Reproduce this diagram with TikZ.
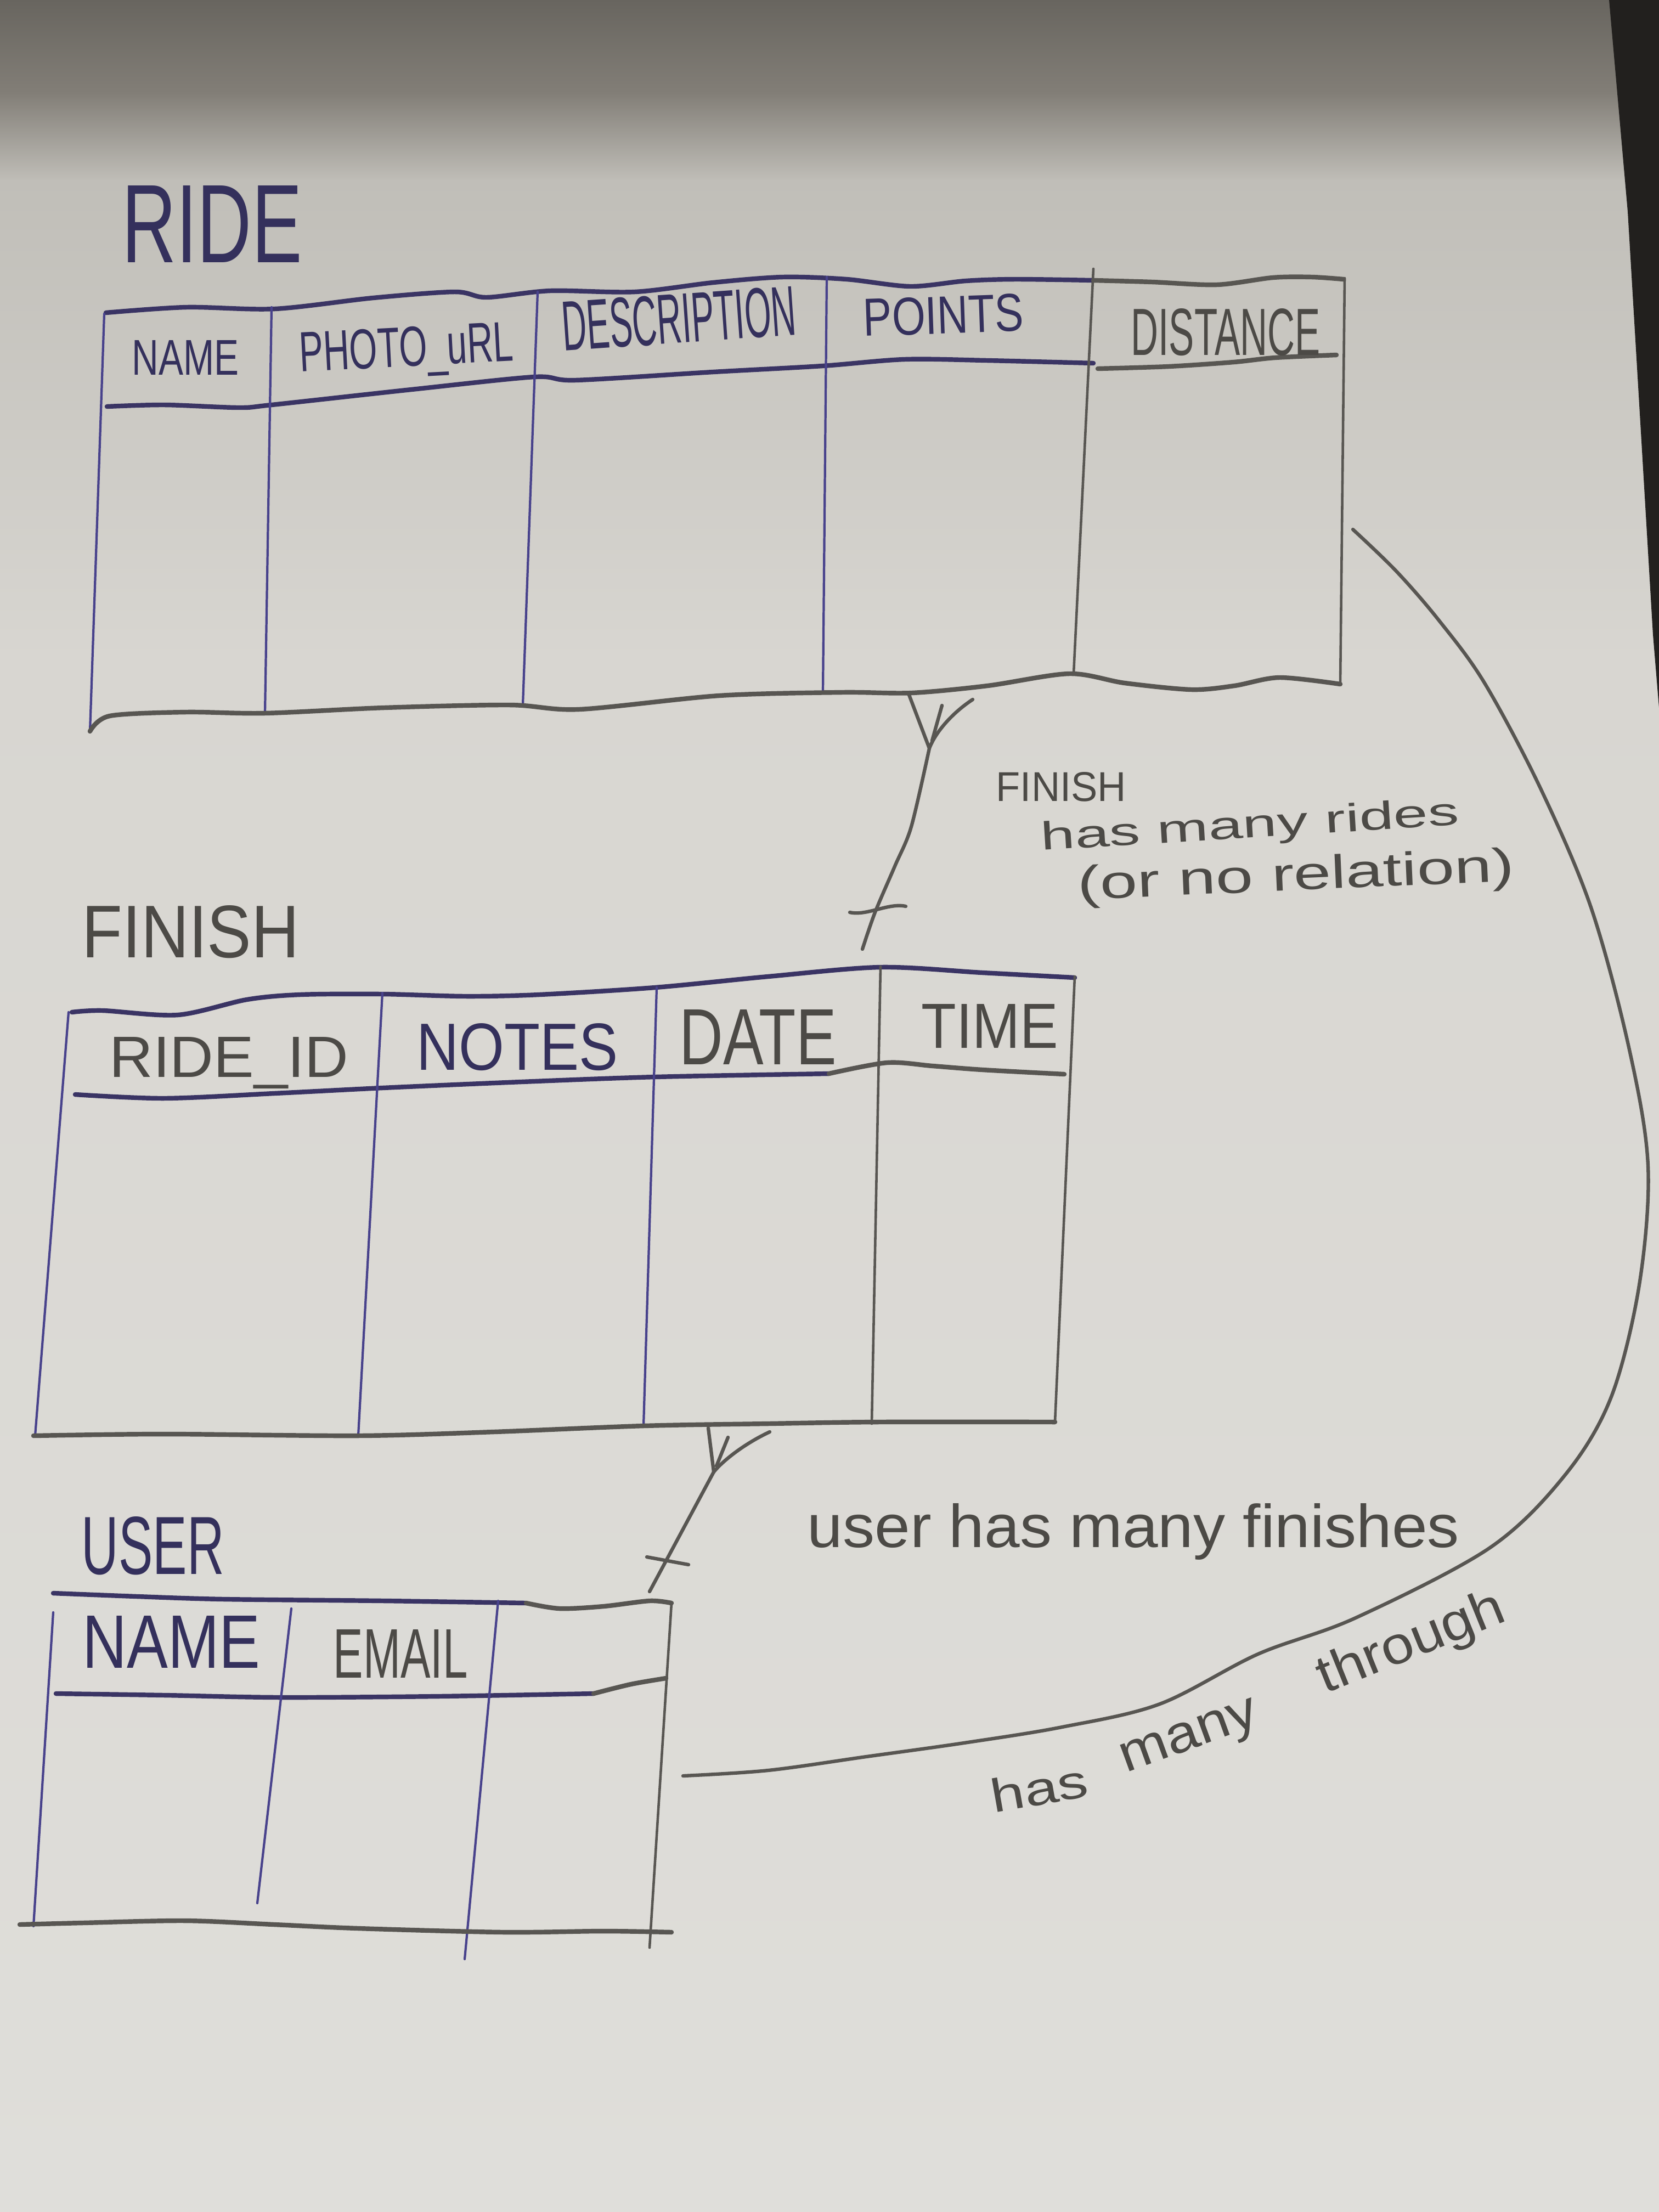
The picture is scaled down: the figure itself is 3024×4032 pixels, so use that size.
\documentclass[tikz,border=0pt]{standalone}
\usepackage{fontspec}
\setmainfont{Liberation Sans}
\usepackage{graphicx}
\newlength{\pxu}\setlength{\pxu}{0.01cm}
% capitals fitted to a width and a height, lowercase fitted to a width
\newcommand{\capsbox}[3]{\resizebox{#1\pxu}{#2\pxu}{#3}}
\newcommand{\widebox}[2]{\resizebox{#1\pxu}{!}{#2}}

\definecolor{paper}{RGB}{216,214,209}
\definecolor{paperlow}{RGB}{223,222,218}
\definecolor{shadeA}{RGB}{104,101,95}
\definecolor{shadeB}{RGB}{130,126,119}
\definecolor{shadeC}{RGB}{192,190,184}
\definecolor{edgedark}{RGB}{34,32,30}
\definecolor{ink}{RGB}{58,52,100}
\definecolor{inkline}{RGB}{72,66,140}
\definecolor{pencil}{RGB}{88,86,82}
\definecolor{inktext}{RGB}{52,48,92}
\definecolor{penciltext}{RGB}{76,74,70}

\begin{document}
\begin{tikzpicture}[x=0.01cm, y=-0.01cm,
  tableedge/.style={line width=2.4pt, line cap=round, line join=round},
  inkborder/.style={tableedge, draw=ink},
  pencilborder/.style={tableedge, draw=pencil},
  inkrule/.style={line width=1.2pt, draw=inkline, line cap=round},
  pencilrule/.style={line width=1.3pt, draw=pencil, line cap=round},
  relation/.style={line width=1.8pt, draw=pencil, line cap=round, line join=round},
  hand/.style={inner sep=0pt, anchor=base west},
  inkhand/.style={hand, text=inktext},
  pencilhand/.style={hand, text=penciltext}]
\useasboundingbox (0,0) rectangle (3024,4032);

% paper, shadow at the top and the dark edge at the right
\fill[paper] (0,0) rectangle (3024,4032);
\shade[top color=paper, bottom color=paperlow] (0,1200) rectangle (3024,4032);
\shade[top color=shadeC, bottom color=paper] (0,329) rectangle (3024,1201);
\shade[top color=shadeB, bottom color=shadeC] (0,169) rectangle (3024,330);
\shade[top color=shadeA, bottom color=shadeB] (0,0) rectangle (3024,170);
\fill[edgedark] (2933,0) -- (3024,0) -- (3024,1290) -- (3013,1157) -- (2990,771) -- (2967,386) -- cycle;

% ---------------- RIDE table ----------------
\node[inkhand] (rideTitle) at (222,478) {\capsbox{328}{140}{RIDE}};
\draw[inkborder] plot[smooth, tension=0.5] coordinates {(193,570) (340,560) (501,563) (680,543) (829,532) (887,542) (1003,530) (1157,532) (1300,515) (1427,505) (1543,509) (1659,522) (1760,512) (1851,509) (1993,511)};
\draw[pencilborder] plot[smooth, tension=0.5] coordinates {(1993,511) (2100,514) (2218,519) (2320,506) (2391,505) (2449,509)};
\draw[inkborder] plot[smooth, tension=0.5] coordinates {(195,741) (300,738) (435,743) (495,738) (750,710) (974,687) (1049,693) (1300,678) (1499,667) (1649,655) (1799,657) (1993,662)};
\draw[pencilborder] plot[smooth, tension=0.5] coordinates {(2001,672) (2130,668) (2249,660) (2324,652) (2436,647)};
\draw[inkrule] (190,572) -- (164,1333);
\draw[inkrule] (495,560) -- (483,1300);
\draw[inkrule] (980,532) -- (953,1285);
\draw[inkrule] (1507,505) -- (1500,1262);
\draw[pencilrule] (1993,490) -- (1957,1228);
\draw[pencilrule] (2451,507) -- (2443,1247);
\draw[pencilborder] plot[smooth, tension=0.5] coordinates {(164,1333) (200,1305) (339,1298) (483,1300) (700,1290) (929,1285) (1056,1293) (1311,1268) (1535,1262) (1662,1263) (1800,1250) (1949,1228) (2050,1245) (2172,1257) (2250,1250) (2332,1235) (2443,1247)};
\node[inkhand] (rideName) at (240,683) {\capsbox{195}{63}{NAME}};
\node[inkhand, rotate=3] (ridePhoto) at (547,678) {\capsbox{390}{72}{PHOTO\_uRL}};
\node[inkhand, rotate=4] (rideDesc) at (1027,640) {\capsbox{427}{90}{DESCRIPTION}};
\node[inkhand, rotate=2] (ridePoints) at (1574,613) {\capsbox{292}{68}{POINTS}};
\node[pencilhand] (rideDist) at (2061,647) {\capsbox{345}{85}{DISTANCE}};

% ---------------- FINISH table ----------------
\node[pencilhand] (finishTitle) at (149,1745) {\capsbox{396}{95}{FINISH}};
\draw[inkborder] plot[smooth, tension=0.5] coordinates {(131,1845) (187,1842) (324,1850) (450,1822) (547,1813) (697,1812) (850,1816) (983,1813) (1194,1800) (1400,1780) (1605,1763) (1791,1773) (1959,1782)};
\draw[inkborder] plot[smooth, tension=0.5] coordinates {(137,1995) (299,2002) (500,1993) (697,1983) (950,1972) (1194,1963) (1511,1957)};
\draw[pencilborder] plot[smooth, tension=0.5] coordinates {(1511,1957) (1617,1937) (1700,1943) (1791,1950) (1940,1958)};
\draw[inkrule] (125,1845) -- (64,2617);
\draw[inkrule] (697,1810) -- (653,2617);
\draw[inkrule] (1197,1800) -- (1173,2599);
\draw[pencilrule] (1605,1762) -- (1589,2595);
\draw[pencilrule] (1959,1780) -- (1923,2592);
\draw[pencilborder] plot[smooth, tension=0.5] coordinates {(61,2617) (300,2614) (653,2617) (900,2610) (1173,2599) (1400,2595) (1600,2592) (1923,2592)};
\node[pencilhand] (finishRide) at (199,1963) {\capsbox{435}{73}{RIDE\_ID}};
\node[inkhand] (finishNotes) at (759,1950) {\capsbox{367}{85}{NOTES}};
\node[pencilhand] (finishDate) at (1238,1940) {\capsbox{286}{100}{DATE}};
\node[pencilhand] (finishTime) at (1679,1910) {\capsbox{249}{80}{TIME}};

% ---------------- USER table ----------------
\node[inkhand] (userTitle) at (148,2869) {\capsbox{260}{105}{USER}};
\draw[inkborder] plot[smooth, tension=0.5] coordinates {(97,2904) (250,2910) (408,2915) (700,2918) (959,2922)};
\draw[pencilborder] plot[smooth, tension=0.5] coordinates {(959,2922) (1020,2932) (1100,2928) (1184,2918) (1224,2922)};
\draw[inkborder] plot[smooth, tension=0.5] coordinates {(102,3087) (300,3090) (510,3094) (800,3092) (1082,3087)};
\draw[pencilborder] plot[smooth, tension=0.5] coordinates {(1082,3087) (1150,3070) (1214,3059)};
\draw[inkrule] (97,2939) -- (61,3511);
\draw[inkrule] (531,2932) -- (469,3469);
\draw[inkrule] (908,2918) -- (847,3571);
\draw[pencilrule] (1224,2922) -- (1184,3550);
\draw[pencilborder] plot[smooth, tension=0.5] coordinates {(36,3508) (150,3505) (337,3501) (500,3508) (653,3515) (918,3522) (1100,3520) (1224,3522)};
\node[inkhand] (userName) at (150,3040) {\capsbox{324}{95}{NAME}};
\node[pencilhand] (userEmail) at (607,3058) {\capsbox{245}{88}{EMAIL}};

% ---------------- relation RIDE -- FINISH ----------------
\coordinate (rfFootL) at (1656,1264);
\coordinate (rfFootM) at (1717,1286);
\coordinate (rfFootR) at (1773,1275);
\coordinate (rfVertex) at (1694,1364);
\coordinate (rfEnd) at (1572,1730);
\coordinate (rfTickA) at (1549,1663);
\coordinate (rfTickB) at (1651,1652);
\draw[relation] (rfFootL) -- (rfVertex);
\draw[relation] (rfFootR) .. controls (1735,1300) and (1705,1335) .. (rfVertex);
\draw[relation] (rfFootM) -- (1699,1350);
\draw[relation] plot[smooth, tension=0.5] coordinates {(rfVertex) (1661,1507) (1631,1579) (1595,1663) (rfEnd)};
\draw[relation] (rfTickA) .. controls (1580,1670) and (1620,1645) .. (rfTickB);
\node[pencilhand] (rfTitle) at (1815,1460) {\capsbox{237}{53}{FINISH}};
\node[pencilhand, rotate=3.5] (rfLineA) at (1898,1550) {\capsbox{763}{52}{has many rides}};
\node[pencilhand, rotate=2.5] (rfLineB) at (1965,1640) {\capsbox{796}{62}{(or no relation)}};

% ---------------- relation FINISH -- USER ----------------
\coordinate (fuFootL) at (1291,2603);
\coordinate (fuFootM) at (1327,2620);
\coordinate (fuFootR) at (1403,2610);
\coordinate (fuVertex) at (1301,2683);
\coordinate (fuEnd) at (1184,2901);
\coordinate (fuTickA) at (1179,2838);
\coordinate (fuTickB) at (1255,2852);
\draw[relation] (fuFootL) -- (fuVertex);
\draw[relation] (fuFootR) .. controls (1360,2630) and (1320,2660) .. (fuVertex);
\draw[relation] (fuFootM) -- (1306,2672);
\draw[relation] (fuVertex) -- (fuEnd);
\draw[relation] (fuTickA) -- (fuTickB);
\node[pencilhand] (fuNote) at (1471,2820) {\capsbox{1188}{80}{user has many finishes}};

% ---------------- relation RIDE -- USER (through FINISH) ----------------
\coordinate (thStart) at (2466,965);
\coordinate (thEnd) at (1245,3237);
\draw[relation] plot[smooth, tension=0.55] coordinates {(thStart) (2545,1041) (2623,1131) (2706,1245) (2808,1437) (2900,1654) (2969,1909) (3004,2125) (2988,2342) (2937,2546) (2854,2687) (2716,2821) (2471,2949) (2293,3015) (2114,3106) (1936,3148) (1757,3177) (1579,3202) (1400,3227) (thEnd)};
\node[pencilhand, rotate=10] (thHas) at (1811,3305) {\capsbox{178}{62}{has}};
\node[pencilhand, rotate=20] (thMany) at (2052,3232) {\capsbox{262}{52}{many}};
\node[pencilhand, rotate=22] (thThrough) at (2415,3088) {\capsbox{360}{70}{through}};
\end{tikzpicture}
\end{document}
